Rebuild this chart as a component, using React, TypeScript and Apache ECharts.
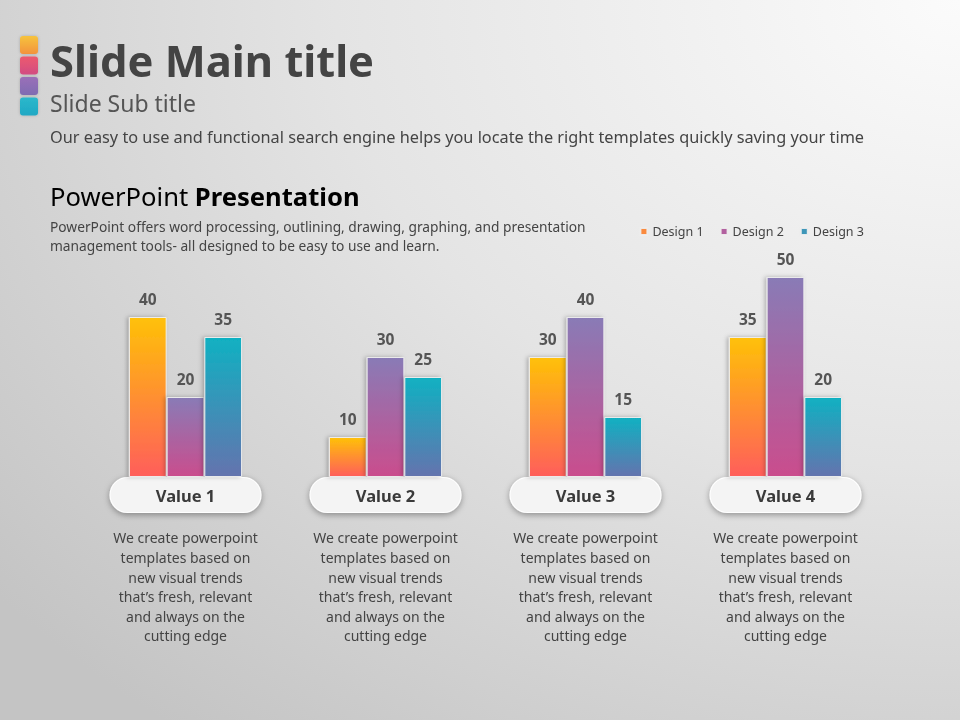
import React, { useEffect, useRef } from "react";
import * as echarts from "echarts";

const categories = ["Value 1", "Value 2", "Value 3", "Value 4"];
const seriesNames = ["Design 1", "Design 2", "Design 3"];
const design1 = [40, 10, 30, 35];
const design2 = [20, 30, 40, 50];
const design3 = [35, 25, 15, 20];
const descLines = [
  "We create powerpoint",
  "templates based on",
  "new visual trends",
  "that\u2019s fresh, relevant",
  "and always on the",
  "cutting edge",
];
const yTicks = [0, 60];

const FONT = "'Noto Sans', 'DejaVu Sans', sans-serif";

const gradients = [
  ["#FFC107", "#FF5E5B"],
  ["#897BB6", "#CA4D8D"],
  ["#10B1C2", "#6473AE"],
];
const legendColors = ["#FA8A3E", "#B2609F", "#3E96B8"];

function grad(c: string[]) {
  return new echarts.graphic.LinearGradient(0, 0, 0, 1, [
    { offset: 0, color: c[0] },
    { offset: 1, color: c[1] },
  ]);
}

export default function App() {
  const ref = useRef<HTMLDivElement>(null);
  useEffect(() => {
    if (!ref.current) return;
    const chart = echarts.init(ref.current, undefined, { renderer: "svg" });
    const data = [design1, design2, design3];
    const option: any = {
      animation: false,
      graphic: [
        {
          type: "rect",
          z: -10,
          silent: true,
          shape: { x: 0, y: 0, width: 960, height: 720 },
          style: {
            fill: new echarts.graphic.RadialGradient(1, 0, 1.3, [
              { offset: 0, color: "#fbfbfb" },
              { offset: 0.5, color: "#e4e4e4" },
              { offset: 1, color: "#c4c4c4" },
            ]),
          },
        },
        ...[
          ["#F6C33E", "#F3933C"],
          ["#EC5A6E", "#D24C82"],
          ["#9A6FB8", "#7F6CB2"],
          ["#2BB8CB", "#1FA8C4"],
        ].map((c, i) => ({
          type: "rect",
          z: 1,
          shape: { x: 20, y: 36 + i * 20.5, width: 18, height: 18, r: 3 },
          style: {
            fill: new echarts.graphic.LinearGradient(0, 0, 0, 1, [
              { offset: 0, color: c[0] },
              { offset: 1, color: c[1] },
            ]),
            shadowColor: "rgba(0,0,0,0.2)",
            shadowBlur: 3,
          },
        })),
        {
          type: "text",
          x: 50,
          y: 60,
          style: {
            text: "Slide Main title",
            font: `bold 43.5px ${FONT}`,
            fill: "#444444",
            verticalAlign: "middle",
            textVerticalAlign: "middle",
          },
        },
        {
          type: "text",
          x: 50,
          y: 103,
          style: {
            text: "Slide Sub title",
            font: `23px ${FONT}`,
            fill: "#555555",
            verticalAlign: "middle",
            textVerticalAlign: "middle",
          },
        },
        {
          type: "text",
          x: 50,
          y: 137,
          style: {
            text: "Our easy to use and functional search engine helps you locate the right templates quickly saving your time",
            font: `16.3px ${FONT}`,
            fill: "#444444",
            verticalAlign: "middle",
            textVerticalAlign: "middle",
          },
        },
        {
          type: "text",
          x: 50,
          y: 196,
          style: {
            text: "{a|PowerPoint }{b|Presentation}",
            verticalAlign: "middle",
            textVerticalAlign: "middle",
            rich: {
              a: { fontFamily: FONT, fontSize: 25.6, color: "#505050" },
              b: { fontFamily: FONT, fontSize: 25.6, fontWeight: "bold", color: "#444444" },
            },
          },
        },
        {
          type: "text",
          x: 50,
          y: 235.5,
          style: {
            text:
              "PowerPoint offers word processing, outlining, drawing, graphing, and presentation\nmanagement tools- all designed to be easy to use and learn.",
            font: `13.75px ${FONT}`,
            lineHeight: 19,
            fill: "#444444",
            verticalAlign: "middle",
            textVerticalAlign: "middle",
          },
        },
      ],
      legend: {
        top: 220,
        right: 91,
        itemWidth: 7,
        itemHeight: 7,
        itemGap: 16,
        icon: "rect",
        textStyle: { fontFamily: FONT, fontSize: 12.5, color: "#444444" },
        data: seriesNames.map((n, i) => ({
          name: n,
          itemStyle: { color: legendColors[i] },
        })),
      },
      grid: { left: 85.5, right: 74.5, top: 237, bottom: 243 },
      xAxis: {
        type: "category",
        data: categories,
        axisLine: { show: false },
        axisTick: { show: false },
        axisLabel: {
          interval: 0,
          margin: 1,
          formatter: (v: string) =>
            `{pill|${v}}\n{gap| }\n` + descLines.map((l) => `{d|${l}}`).join("\n"),
          rich: {
            pill: {
              width: 150,
              height: 34,
              align: "center",
              fontFamily: FONT,
              fontSize: 16.5,
              fontWeight: "bold",
              color: "#3a3a3a",
              backgroundColor: "#f4f4f4",
              borderColor: "#ffffff",
              borderWidth: 1,
              borderRadius: 17,
              shadowColor: "rgba(0,0,0,0.35)",
              shadowBlur: 6,
              shadowOffsetY: 2,
            },
            gap: {
              fontSize: 1,
              lineHeight: 16,
              height: 16,
            },
            d: {
              fontFamily: FONT,
              fontSize: 14,
              color: "#444444",
              lineHeight: 19.6,
              align: "center",
            },
          },
        },
      },
      yAxis: {
        type: "value",
        min: yTicks[0],
        max: yTicks[1],
        show: false,
        splitLine: { show: false },
      },
      series: seriesNames.map((n, i) => ({
        name: n,
        type: "bar",
        data: data[i],
        barWidth: 37.7,
        barGap: "0%",
        itemStyle: {
          color: grad(gradients[i]),
          borderColor: "rgba(238,238,238,0.95)",
          borderWidth: 1,
          shadowColor: "rgba(0,0,0,0.25)",
          shadowBlur: 4,
          shadowOffsetX: -2,
        },
        label: {
          show: true,
          position: "top",
          distance: 10,
          fontFamily: FONT,
          fontSize: 15.5,
          fontWeight: "bold",
          color: "#555555",
        },
      })),
    };
    chart.setOption(option);
    return () => chart.dispose();
  }, []);
  return (
    <div
      ref={ref}
      style={{ position: "fixed", left: 0, top: 0, width: 960, height: 720 }}
    />
  );
}
